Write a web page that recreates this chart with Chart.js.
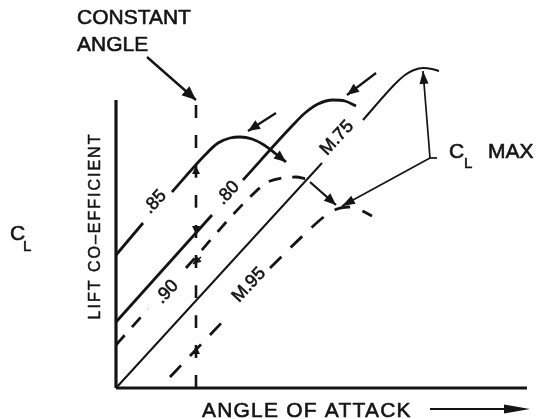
<!DOCTYPE html>
<html><head><meta charset="utf-8">
<script src="https://cdn.jsdelivr.net/npm/chart.js@4"></script>
<style>html,body{margin:0;padding:0;background:#fff;}#wrap{width:536px;height:419px;}</style>
</head><body><div id="wrap"><canvas id="c" width="536" height="419"></canvas></div>
<script>
// x: angle of attack (schematic units), y: lift coefficient CL (schematic units)
const mach85Low  = [[0,0.665],[1.35,0.825]];
const mach85High = [[2.8,0.98],[4.45,1.165],[5.1,1.225],[5.7,1.25],[6.2,1.255],[6.8,1.245],[7.4,1.215],[8.0,1.17],[8.5,1.13]];
const mach80Low  = [[0,0.33],[4.8,0.865]];
const mach80High = [[6.35,1.04],[8.8,1.31],[9.45,1.375],[10.1,1.42],[10.85,1.44],[11.45,1.435],[12.0,1.41]];
const mach75Low  = [[0,0],[10.3,1.125]];
const mach75High = [[12.35,1.34],[13.95,1.52],[14.45,1.565],[14.9,1.59],[15.35,1.6],[15.8,1.595],[16.15,1.585]];
const mach90Low  = [[0,0.215],[1.6,0.395]];
const mach90High = [[3.5,0.6],[6.7,0.955],[7.6,1.03],[8.3,1.05],[9.0,1.055],[9.5,1.045]];
const mach90Drop = [[9.7,1.03],[11.0,0.915]];
const mach95Low  = [[2.7,0.055],[5.6,0.36]];
const mach95High = [[7.7,0.6],[9.7,0.795],[10.45,0.86],[11.05,0.895],[11.6,0.905],[12.1,0.895],[12.8,0.86]];
const constantAngle      = [[4.0,0],[4.0,1.42]];
const constantAngleArrow = [[1.55,1.655],[4.0,1.44]];
const peak85Arrow = [[8.0,1.375],[6.6,1.285]];
const peak80Arrow = [[13.0,1.575],[11.55,1.465]];
const clMaxToM75  = [[15.7,1.15],[15.35,1.585]];
const clMaxToM95  = [[15.7,1.15],[11.3,0.91]];
const clMaxTick   = [[15.7,1.15],[16.05,1.15]];
const crossMarks  = [[[4.0,1.07],[4.0,1.11]],[[4.0,0.81],[4.0,0.77]],[[4.25,0.655],[3.85,0.62]],[[4.0,0.17],[4.0,0.21]]];
const axisY = [[0,0],[0,1.44]];
const axisX = [[0,0],[20.55,0]];
const lineLabels = ['.85','.80','.90','M.75','M.95'];
const labelX = [1.95,5.6,2.55,11.05,6.65];
const labelY = [0.93,0.975,0.48,1.25,0.515];

const INK = '#141414';
const FONT = '"Liberation Sans", Arial, sans-serif';

function ds(points, opts){
  return Object.assign({
    data: points.map(p => ({x:p[0], y:p[1]})),
    showLine: true, pointRadius: 0, pointHoverRadius: 0,
    borderColor: INK, backgroundColor: INK, borderWidth: 2.8,
    fill: false, clip: false, cubicInterpolationMode: 'monotone'
  }, opts || {});
}

const datasets = [
  ds(axisX, {borderWidth:3.2}),
  ds(axisY, {borderWidth:3.2}),
  ds(constantAngle, {borderDash:[13,17], borderWidth:2.6}),
  ds(constantAngleArrow, {borderWidth:2.4, arrowHead:[14,6]}),
  ds(mach85Low), ds(mach85High, {arrowHead:[12,5]}),
  ds(mach80Low), ds(mach80High),
  ds(mach75Low, {borderWidth:2}), ds(mach75High, {borderWidth:2}),
  ds(mach90Low, {borderDash:[13,11]}), ds(mach90High, {borderDash:[13,11]}),
  ds(mach90Drop, {borderWidth:2.2, arrowHead:[12,5]}),
  ds(mach95Low, {borderDash:[16,13]}), ds(mach95High, {borderDash:[16,13]}),
  ds(peak85Arrow, {borderWidth:2.2, arrowHead:[12,5]}),
  ds(peak80Arrow, {borderWidth:2.2, arrowHead:[12,5]}),
  ds(clMaxToM75, {borderWidth:1.7, arrowHead:[13,4.5]}),
  ds(clMaxToM95, {borderWidth:1.7, arrowHead:[13,4.5]}),
  ds(clMaxTick, {borderWidth:1.7})
];
crossMarks.forEach(m => datasets.push(ds(m, {borderWidth:1.6, arrowHead:[8,4]})));

function arrowHead(ctx, x1, y1, x2, y2, len, half){
  const a = Math.atan2(y2-y1, x2-x1);
  const bx = x2 - len*Math.cos(a), by = y2 - len*Math.sin(a);
  ctx.beginPath();
  ctx.moveTo(x2, y2);
  ctx.lineTo(bx + half*Math.sin(a), by - half*Math.cos(a));
  ctx.lineTo(bx - half*Math.sin(a), by + half*Math.cos(a));
  ctx.closePath();
  ctx.fill();
}

function heavyText(ctx, t, x, y){
  ctx.fillText(t, x, y);
  ctx.strokeText(t, x, y);
}

const decor = {
  id: 'decor',
  afterDatasetsDraw(chart){
    const ctx = chart.ctx;
    const xs = chart.scales.x, ys = chart.scales.y;
    ctx.save();
    ctx.fillStyle = INK;
    ctx.strokeStyle = INK;
    chart.data.datasets.forEach((d, i) => {
      if (!d.arrowHead) return;
      const pts = chart.getDatasetMeta(i).data;
      const a = pts[pts.length-2], b = pts[pts.length-1];
      arrowHead(ctx, a.x, a.y, b.x, b.y, d.arrowHead[0], d.arrowHead[1]);
    });
    ctx.lineWidth = 0.6;
    ctx.lineJoin = 'round';
    // labels along the curves
    ctx.font = '18px ' + FONT;
    ctx.textAlign = 'center';
    ctx.textBaseline = 'middle';
    lineLabels.forEach((t, i) => {
      ctx.save();
      ctx.translate(xs.getPixelForValue(labelX[i]), ys.getPixelForValue(labelY[i]));
      ctx.rotate(-47 * Math.PI / 180);
      heavyText(ctx, t, 0, 0);
      ctx.restore();
    });
    // static texts
    ctx.textAlign = 'left';
    ctx.textBaseline = 'alphabetic';
    ctx.font = '21px ' + FONT;
    heavyText(ctx, 'CONSTANT', 77, 24);
    heavyText(ctx, 'ANGLE', 77, 51);
    heavyText(ctx, 'C', 10, 240);
    heavyText(ctx, 'C', 449, 158);
    heavyText(ctx, 'MAX', 488, 158);
    ctx.font = '15px ' + FONT;
    heavyText(ctx, 'L', 23, 251);
    heavyText(ctx, 'L', 464, 168);
    ctx.font = '21px ' + FONT;
    ctx.letterSpacing = '1.2px';
    heavyText(ctx, 'ANGLE OF ATTACK', 202, 417);
    ctx.letterSpacing = '0px';
    // axis title arrow
    ctx.lineWidth = 1.8;
    ctx.beginPath(); ctx.moveTo(430, 409); ctx.lineTo(510, 409); ctx.stroke();
    arrowHead(ctx, 430, 409, 530, 409, 26, 4.5);
    // rotated y title
    ctx.save();
    ctx.translate(96, 226);
    ctx.rotate(-Math.PI/2);
    ctx.font = '16px ' + FONT;
    ctx.letterSpacing = '2px';
    ctx.textAlign = 'center';
    ctx.textBaseline = 'middle';
    ctx.lineWidth = 0.5;
    heavyText(ctx, 'LIFT CO\u2013EFFICIENT', 0, 0);
    ctx.restore();
    ctx.restore();
  }
};

new Chart(document.getElementById('c'), {
  type: 'scatter',
  data: { datasets },
  options: {
    responsive: false, animation: false, devicePixelRatio: 1,
    layout: { padding: { left: 116, right: 9, top: 40, bottom: 31 } },
    scales: {
      x: { type: 'linear', min: 0, max: 20.55, display: false },
      y: { type: 'linear', min: 0, max: 1.74, display: false }
    },
    plugins: { legend: {display:false}, tooltip: {enabled:false} },
    events: []
  },
  plugins: [decor]
});
</script></body></html>
